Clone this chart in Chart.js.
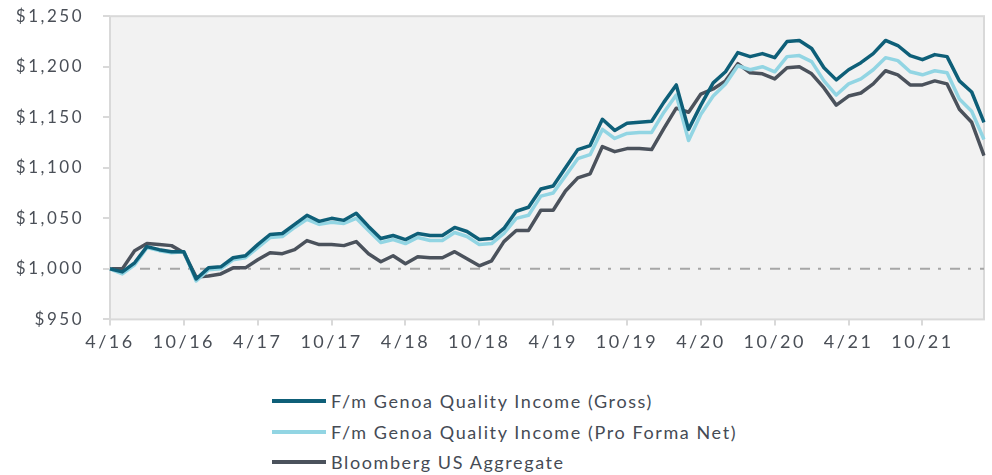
<!DOCTYPE html>
<html>
<head>
<meta charset="utf-8">
<script src="https://cdn.jsdelivr.net/npm/chart.js@4.4.1/dist/chart.umd.min.js"></script>
<style>
  html, body { margin:0; padding:0; background:#fff; overflow:hidden; }
  #wrap { position:relative; width:992px; height:475px; overflow:hidden; font-family:Lato, sans-serif; }
  #box { position:absolute; left:0; top:-13px; width:992px; height:378px; }
  #legend { position:absolute; left:272px; top:386px; }
  .item { display:flex; align-items:center; height:30.5px; font-size:18px; letter-spacing:1.6px; color:#454b55; }
  .swatch { width:54px; height:4px; margin-right:5px; }
</style>
</head>
<body>
<div id="wrap">
  <div id="box"><canvas id="growth"></canvas></div>
  <div id="legend"></div>
</div>
<script>
'use strict';

// ── Data: growth of $1,000, monthly 4/16 – 3/22 ─────────────────────
const months = [
  '4/16','5/16','6/16','7/16','8/16','9/16','10/16','11/16','12/16','1/17','2/17','3/17',
  '4/17','5/17','6/17','7/17','8/17','9/17','10/17','11/17','12/17','1/18','2/18','3/18',
  '4/18','5/18','6/18','7/18','8/18','9/18','10/18','11/18','12/18','1/19','2/19','3/19',
  '4/19','5/19','6/19','7/19','8/19','9/19','10/19','11/19','12/19','1/20','2/20','3/20',
  '4/20','5/20','6/20','7/20','8/20','9/20','10/20','11/20','12/20','1/21','2/21','3/21',
  '4/21','5/21','6/21','7/21','8/21','9/21','10/21','11/21','12/21','1/22','2/22','3/22'
];

const gross = [
  1000, 997,1006,1022,1019,1017,1017, 990,1001,1002,1011,1013,
  1024,1034,1035,1044,1053,1047,1050,1048,1055,1042,1030,1033,
  1029,1035,1033,1033,1041,1037,1029,1030,1040,1057,1061,1079,
  1082,1100,1118,1122,1148,1137,1144,1145,1146,1165,1182,1138,
  1162,1184,1195,1214,1210,1213,1209,1225,1226,1218,1199,1187,
  1197,1204,1213,1226,1221,1211,1207,1212,1210,1186,1175,1145
];

const proFormaNet = [
  1000, 995,1004,1021,1018,1016,1017, 988, 999,1000,1009,1011,
  1021,1031,1032,1041,1049,1044,1046,1045,1050,1038,1026,1029,
  1025,1031,1028,1028,1036,1032,1024,1025,1035,1050,1053,1072,
  1075,1092,1109,1113,1138,1129,1134,1135,1135,1155,1172,1127,
  1153,1171,1183,1201,1197,1200,1195,1210,1211,1205,1186,1172,
  1183,1188,1197,1209,1206,1195,1192,1196,1194,1168,1156,1128
];

const bbgAgg = [
  1000,1000,1018,1025,1024,1023,1016, 992, 993, 995,1001,1001,
  1009,1016,1015,1019,1028,1024,1024,1023,1027,1015,1007,1013,
  1005,1012,1011,1011,1017,1010,1003,1008,1027,1038,1038,1058,
  1058,1077,1090,1094,1121,1116,1119,1119,1118,1139,1159,1155,
  1173,1178,1186,1203,1194,1193,1188,1199,1200,1193,1179,1162,
  1171,1174,1183,1196,1192,1182,1182,1186,1183,1158,1145,1112
];

const seriesNames = [
  'F/m Genoa Quality Income (Gross)',
  'F/m Genoa Quality Income (Pro Forma Net)',
  'Bloomberg US Aggregate'
];
const seriesColors = ['#0e5f78', '#92d5e3', '#4b525c'];
const baseline = 1000;
const yMin = 950, yMax = 1250, yStep = 50;
const tickEvery = 6;

// ── Plot-area background, border and $1,000 reference line ──────────
const plotFrame = {
  id: 'plotFrame',
  beforeDraw(chart) {
    const { ctx, chartArea: a } = chart;
    ctx.letterSpacing = '2.5px';   // tick labels in the original are widely tracked
    ctx.save();
    ctx.fillStyle = '#f2f2f2';
    ctx.fillRect(a.left, a.top, a.right - a.left, a.bottom - a.top);
    ctx.restore();
  },
  beforeDatasetsDraw(chart) {
    const { ctx, chartArea: a, scales } = chart;
    const y = scales.y.getPixelForValue(baseline);
    ctx.save();
    ctx.strokeStyle = '#d9d9d9'; ctx.lineWidth = 2;
    ctx.strokeRect(a.left, a.top, a.right - a.left, a.bottom - a.top);
    ctx.strokeStyle = '#a6a6a6'; ctx.lineWidth = 2;
    ctx.setLineDash([10, 8, 3, 9]);
    ctx.beginPath(); ctx.moveTo(a.left, y); ctx.lineTo(a.right, y); ctx.stroke();
    ctx.restore();
  }
};

Chart.defaults.font.family = 'Lato';
Chart.defaults.color = '#4a4f57';

const datasets = [gross, proFormaNet, bbgAgg].map((data, i) => ({
  label: seriesNames[i], data,
  borderColor: seriesColors[i], backgroundColor: seriesColors[i],
  borderWidth: 3.5, pointRadius: 0, tension: 0, borderJoinStyle: 'round'
}));

new Chart(document.getElementById('growth').getContext('2d'), {
  type: 'line',
  data: { labels: months, datasets },
  options: {
    responsive: true, maintainAspectRatio: false, animation: false,
    layout: { padding: { top: 0, right: 8, bottom: 6, left: 0 } },
    scales: {
      x: {
        offset: false,
        border: { display: false },
        grid: { drawOnChartArea: false, tickLength: 6, lineWidth: 2,
                tickColor: c => (c.index % tickEvery === 0 ? '#d9d9d9' : 'rgba(0,0,0,0)') },
        ticks: { autoSkip: false, maxRotation: 0, minRotation: 0, padding: 6, font: { size: 18 },
                 callback: (v, i) => (i % tickEvery === 0 ? months[i] : '') }
      },
      y: {
        min: yMin, max: yMax,
        border: { display: false },
        afterFit: s => { s.width = 110; },
        grid: { drawOnChartArea: false, tickLength: 7, lineWidth: 2, tickColor: '#d9d9d9' },
        ticks: { stepSize: yStep, padding: 19, font: { size: 17 },
                 callback: v => '$' + v.toLocaleString('en-US') }
      }
    },
    plugins: { legend: { display: false }, tooltip: { enabled: false } }
  },
  plugins: [plotFrame]
});

// ── Stacked legend below the chart ───────────────────────────────────
document.getElementById('legend').innerHTML = seriesNames.map((n, i) =>
  `<div class="item"><span class="swatch" style="background:${seriesColors[i]}"></span>${n}</div>`
).join('');
</script>
</body>
</html>
